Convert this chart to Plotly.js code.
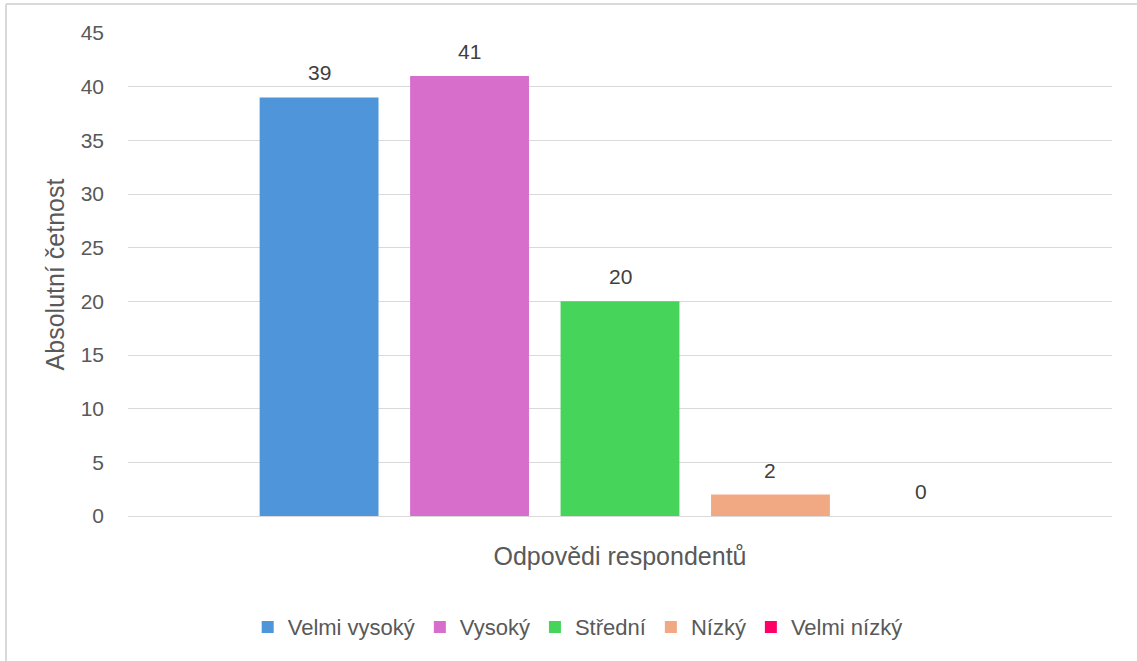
<!DOCTYPE html>
<html>
<head>
<meta charset="utf-8">
<script src="https://cdn.plot.ly/plotly-3.0.1.min.js"></script>
<style>html,body{margin:0;padding:0;background:#fff;}#chart{width:1137px;height:661px;}</style>
</head>
<body>
<div id="chart"></div>
<script>
const categories = ["Velmi vysoký", "Vysoký", "Střední", "Nízký", "Velmi nízký"];
const values = [39, 41, 20, 2, 0];
const colors = ["#4E95D9", "#D86ECC", "#47D45A", "#F1A983", "#FF0066"];
const yTicks = [0, 5, 10, 15, 20, 25, 30, 35, 40, 45];
const xTitle = "Odpovědi respondentů";
const yTitle = "Absolutní četnost";

const FONT = "Liberation Sans, Arial, sans-serif";

const traces = categories.map((c, i) => ({
  type: "bar",
  name: c,
  x: [c],
  y: [values[i]],
  marker: {color: colors[i]},
  hoverinfo: "skip"
}));

const annotations = categories.map((c, i) => ({
  x: c, y: values[i], xref: "x", yref: "y",
  text: String(values[i]),
  showarrow: false, yanchor: "bottom", yshift: 11,
  font: {family: FONT, size: 21, color: "#404040"}
}));

const layout = {
  width: 1137, height: 661,
  margin: {l: 128, r: 25, t: 33, b: 145},
  paper_bgcolor: "#ffffff", plot_bgcolor: "#ffffff",
  barmode: "overlay",
  bargap: 0.21,
  showlegend: true,
  font: {family: FONT, color: "#595959"},
  xaxis: {
    type: "category",
    categoryorder: "array", categoryarray: categories,
    range: [-1.27, 5.27],
    showticklabels: false, ticks: "",
    showgrid: false, zeroline: false,
    showline: false,
    title: {text: xTitle, font: {family: FONT, size: 25, color: "#595959"}, standoff: 31},
    fixedrange: true
  },
  yaxis: {
    range: [0, 45],
    tickvals: yTicks,
    ticktext: yTicks.map(String),
    ticks: "",
    ticklabelstandoff: 23,
    tickfont: {family: FONT, size: 21, color: "#595959"},
    showgrid: true, gridcolor: "#D9D9D9", gridwidth: 1,
    zeroline: true, zerolinecolor: "#D9D9D9", zerolinewidth: 1,
    showline: false,
    title: {text: yTitle, font: {family: FONT, size: 25, color: "#595959"}, standoff: 8},
    fixedrange: true
  },
  legend: {
    orientation: "h",
    x: 0.457, xanchor: "center",
    y: -0.23, yanchor: "middle",
    font: {family: FONT, size: 22, color: "#595959"},
    itemwidth: 30,
    traceorder: "normal"
  },
  annotations: annotations,
  shapes: [
    {type: "line", xref: "paper", yref: "paper", x0: -0.124, x1: -0.124, y0: 1.06, y1: -0.4,
     line: {color: "#D9D9D9", width: 2}},
    {type: "line", xref: "paper", yref: "paper", x0: -0.124, x1: 1.04, y0: 1.06, y1: 1.06,
     line: {color: "#D9D9D9", width: 2}}
  ]
};

Plotly.newPlot("chart", traces, layout, {displayModeBar: false, staticPlot: true});
</script>
</body>
</html>
